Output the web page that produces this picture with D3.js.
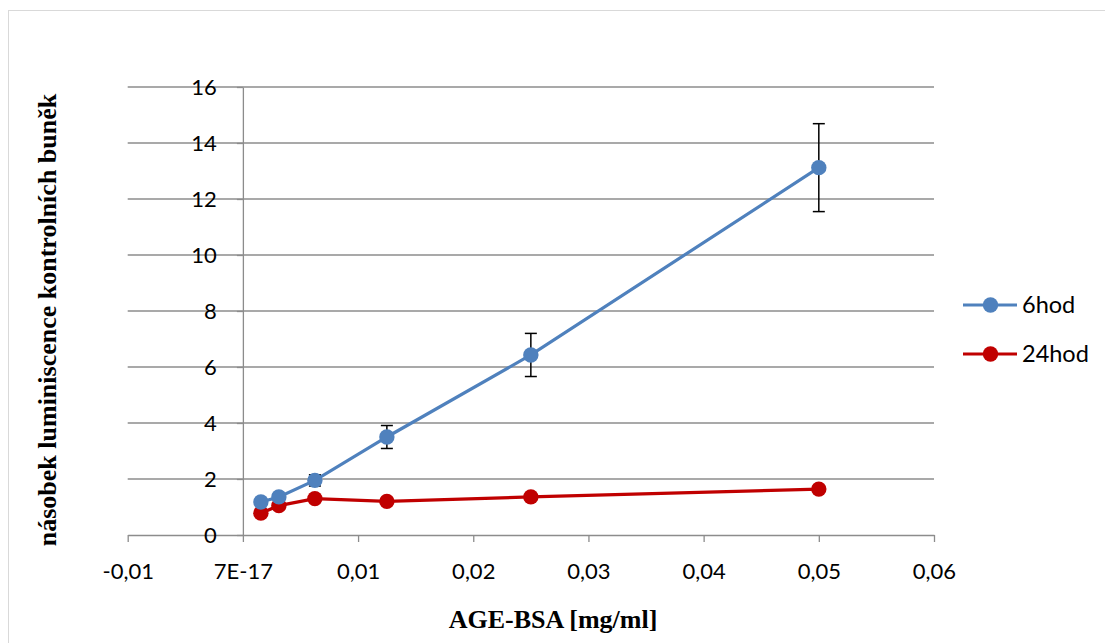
<!DOCTYPE html>
<html>
<head>
<meta charset="utf-8">
<script src="https://cdn.jsdelivr.net/npm/d3@7"></script>
<style>
  body { margin: 0; background: #fff; }
  svg text { font-family: Lato, "Open Sans", sans-serif; }
</style>
</head>
<body>
<div id="screen"></div>
<script>
var width = 1105;
var height = 643;

// concentrations of AGE-BSA [mg/ml]
var concentrations = [0.0015625, 0.003125, 0.00625, 0.0125, 0.025, 0.05];
var seriesNames = ["6hod", "24hod"];
var values6h = [1.18, 1.36, 1.95, 3.5, 6.43, 13.12];
var errors6h = [0.05, 0.06, 0.2, 0.41, 0.77, 1.57];
var values24h = [0.78, 1.05, 1.3, 1.2, 1.36, 1.64];
var errors24h = [0.04, 0.05, 0.06, 0.05, 0.06, 0.1];
var colors = ["#4F81BD", "#C00000"];
var xTicks = [-0.01, 0, 0.01, 0.02, 0.03, 0.04, 0.05, 0.06];
var xTickLabels = ["-0,01", "7E-17", "0,01", "0,02", "0,03", "0,04", "0,05", "0,06"];
var yTicks = [0, 2, 4, 6, 8, 10, 12, 14, 16];

var scaleX = d3.scaleLinear().domain([-0.01, 0.06]).range([127.7, 934]);
var scaleY = d3.scaleLinear().domain([0, 16]).range([535, 87]);

var svg = d3.select("#screen").append("svg")
  .attr("width", width).attr("height", height);

// outer frame
svg.append("rect")
  .attr("x", 8.5).attr("y", 10.5)
  .attr("width", 1200).attr("height", 700)
  .attr("fill", "none").attr("stroke", "#d9d9d9").attr("stroke-width", 1);

// horizontal gridlines
svg.append("g").selectAll("line").data(yTicks.slice(1)).enter()
  .append("line")
  .attr("x1", scaleX(-0.01)).attr("x2", scaleX(0.06))
  .attr("y1", function(d){ return scaleY(d); })
  .attr("y2", function(d){ return scaleY(d); })
  .attr("stroke", "#8c8c8c").attr("stroke-width", 1.3);

// x axis at y=0
var xAxis = d3.axisBottom(scaleX).tickValues(xTicks)
  .tickFormat(function(d, i){ return xTickLabels[i]; })
  .tickSize(7).tickSizeOuter(0).tickPadding(21);
var xAxisSpr = svg.append("g").attr("transform", "translate(0," + scaleY(0) + ")").call(xAxis);
xAxisSpr.select(".domain").attr("stroke", "#8c8c8c").attr("stroke-width", 1.3);
xAxisSpr.selectAll(".tick line").attr("stroke", "#8c8c8c").attr("stroke-width", 1.3);
xAxisSpr.selectAll(".tick text").attr("font-size", 22).attr("fill", "#000")
  .attr("font-family", "Lato, 'Open Sans', sans-serif");

// y axis at x=0
var yAxis = d3.axisLeft(scaleY).tickValues(yTicks)
  .tickSize(6).tickSizeOuter(0).tickPadding(20);
var yAxisSpr = svg.append("g").attr("transform", "translate(" + scaleX(0) + ",0)").call(yAxis);
yAxisSpr.select(".domain").attr("stroke", "#8c8c8c").attr("stroke-width", 1.3);
yAxisSpr.selectAll(".tick line").attr("stroke", "#8c8c8c").attr("stroke-width", 1.3);
yAxisSpr.selectAll(".tick text").attr("font-size", 22).attr("fill", "#000")
  .attr("font-family", "Lato, 'Open Sans', sans-serif");

// series
var series = [
  { name: seriesNames[0], values: values6h, errors: errors6h, color: colors[0] },
  { name: seriesNames[1], values: values24h, errors: errors24h, color: colors[1] }
];

var line = d3.line()
  .x(function(d){ return scaleX(d.x); })
  .y(function(d){ return scaleY(d.y); });

series.slice().reverse().forEach(function(s){
  var pts = concentrations.map(function(c, i){ return { x: c, y: s.values[i], e: s.errors[i] }; });
  var g = svg.append("g");
  g.append("path").datum(pts)
    .attr("d", line).attr("fill", "none")
    .attr("stroke", s.color).attr("stroke-width", 3.2);
  var eb = g.selectAll("g.err").data(pts).enter().append("g").attr("class", "err");
  eb.append("line")
    .attr("x1", function(d){ return scaleX(d.x); })
    .attr("x2", function(d){ return scaleX(d.x); })
    .attr("y1", function(d){ return scaleY(d.y + d.e); })
    .attr("y2", function(d){ return scaleY(d.y - d.e); })
    .attr("stroke", "#000").attr("stroke-width", 1.5);
  [1, -1].forEach(function(sign){
    eb.append("line")
      .attr("x1", function(d){ return scaleX(d.x) - 6; })
      .attr("x2", function(d){ return scaleX(d.x) + 6; })
      .attr("y1", function(d){ return scaleY(d.y + sign * d.e); })
      .attr("y2", function(d){ return scaleY(d.y + sign * d.e); })
      .attr("stroke", "#000").attr("stroke-width", 1.5);
  });
  g.selectAll("circle").data(pts).enter().append("circle")
    .attr("cx", function(d){ return scaleX(d.x); })
    .attr("cy", function(d){ return scaleY(d.y); })
    .attr("r", 7.7).attr("fill", s.color);
});

// legend
var legend = svg.append("g").selectAll("g").data(series).enter()
  .append("g")
  .attr("transform", function(d, i){ return "translate(963," + (305 + i * 49) + ")"; });
legend.append("line")
  .attr("x1", 0).attr("x2", 54).attr("y1", 0).attr("y2", 0)
  .attr("stroke", function(d){ return d.color; }).attr("stroke-width", 3.2);
legend.append("circle")
  .attr("cx", 27.5).attr("cy", 0).attr("r", 7.7)
  .attr("fill", function(d){ return d.color; });
legend.append("text")
  .attr("x", 59).attr("y", 0).attr("dy", "0.35em")
  .attr("font-size", 23.5).attr("fill", "#000")
  .text(function(d){ return d.name; });

// axis titles
svg.append("text")
  .attr("x", 553).attr("y", 628)
  .attr("text-anchor", "middle")
  .attr("font-weight", "bold").attr("font-size", 26)
  .style("font-family", "'Liberation Serif', serif")
  .text("AGE-BSA [mg/ml]");

svg.append("text")
  .attr("transform", "translate(56,320) rotate(-90)")
  .attr("text-anchor", "middle")
  .attr("font-weight", "bold").attr("font-size", 26)
  .style("font-family", "'Liberation Serif', serif")
  .text("násobek luminiscence kontrolních buněk");
</script>
</body>
</html>
